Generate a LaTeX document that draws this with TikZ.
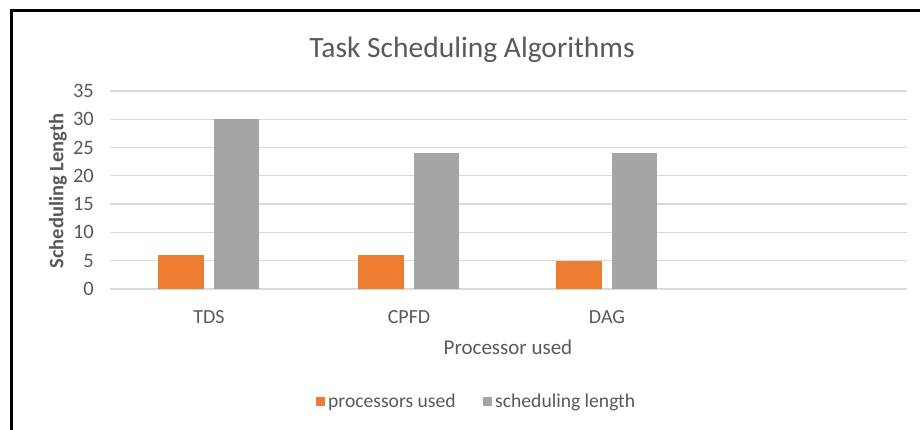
\documentclass[tikz,border=0pt]{standalone}
\usepackage{fontspec}
\setmainfont{Carlito}
\definecolor{barorange}{HTML}{ED7D31}
\definecolor{bargray}{HTML}{A5A5A5}
\definecolor{gridgray}{HTML}{D9D9D9}
\definecolor{txtgray}{HTML}{595959}
\tikzset{
  ticklbl/.style={text=txtgray,font=\fontsize{20.5}{23}\selectfont,inner sep=0pt},
  catlbl/.style={text=txtgray,font=\fontsize{20}{23}\selectfont,inner sep=0pt},
  axtitle/.style={text=txtgray,font=\fontsize{21}{24}\selectfont,inner sep=0pt},
  legtext/.style={text=txtgray,font=\fontsize{19.6}{22}\selectfont,inner sep=0pt,anchor=west},
  gridline/.style={draw=gridgray,line width=1.3pt},
  orangebar/.style={fill=barorange,draw=none},
  graybar/.style={fill=bargray,draw=none},
}
\begin{document}
\begin{tikzpicture}[x=1pt,y=-1pt]
\useasboundingbox (0,0) rectangle (920,430);
% frame: top and left edges only
\draw[line width=2.6pt,line cap=rect] (11.5,430) -- (11.5,10.5) -- (920,10.5);

% title
\node[text=txtgray,font=\fontsize{29.5}{33}\selectfont,inner sep=0pt] (title) at (472,50) {Task Scheduling Algorithms};

% gridlines and tick labels (0 at y=289, 5.66 px per unit)
\foreach \v in {0,5,...,35} {
  \pgfmathsetmacro{\yy}{289-5.66*\v}
  \draw[gridline] (110,\yy) -- (907,\yy);
  \node[ticklbl,anchor=east] (tick\v) at (94,\yy) {\v};
}

% bars
\foreach \cx/\o/\g/\n in {209/6/30/tds,409/6/24/cpfd,607/5/24/dag} {
  \pgfmathsetmacro{\yo}{289-5.66*\o}
  \pgfmathsetmacro{\yg}{289-5.66*\g}
  \fill[orangebar] (\cx-51,289) rectangle (\cx-5,\yo);
  \fill[graybar] (\cx+5,289) rectangle (\cx+50,\yg);
}

% category labels
\node[catlbl] (tds) at (209,317) {TDS};
\node[catlbl] (cpfd) at (409,317) {CPFD};
\node[catlbl] (dag) at (607,317) {DAG};

% axis titles
\node[axtitle] (xtitle) at (508,347) {Processor used};
\node[axtitle,font=\bfseries\fontsize{20.5}{24}\selectfont,rotate=90] (ytitle) at (58,191) {Scheduling Length};

% legend
\fill[barorange] (316,397) rectangle (325,406);
\node[legtext] (leg1) at (328,402) {processors used};
\fill[bargray] (483,397) rectangle (492,406);
\node[legtext] (leg2) at (495,402) {scheduling length};
\end{tikzpicture}
\end{document}
